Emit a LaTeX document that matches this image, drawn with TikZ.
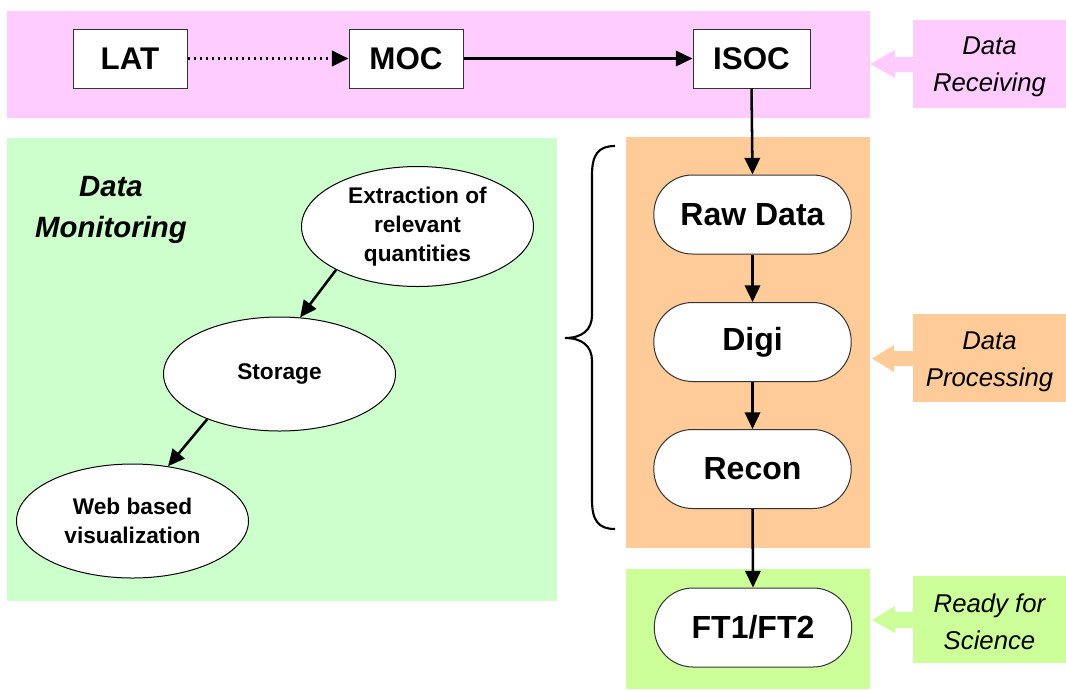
\documentclass[tikz,border=0pt]{standalone}
\usepackage{fontspec}
\setmainfont{Liberation Sans}
\usetikzlibrary{arrows.meta,shapes.geometric}
\definecolor{pinkbg}{RGB}{255,204,255}
\definecolor{greenbg}{RGB}{204,255,204}
\definecolor{orangebg}{RGB}{255,204,153}
\definecolor{limebg}{RGB}{204,255,153}
\definecolor{edgegray}{RGB}{51,51,51}
\begin{document}
\begin{tikzpicture}[x=0.75pt,y=-0.75pt,
  sbox/.style={draw=edgegray,line width=0.75pt,fill=white,minimum width=85.5pt,minimum height=44.25pt,inner sep=0pt,font=\fontsize{23.5}{28}\selectfont\bfseries},
  pill/.style={draw=edgegray,line width=0.75pt,fill=white,rounded corners=29pt,minimum width=148pt,minimum height=59.25pt,inner sep=0pt,font=\fontsize{24}{28}\selectfont\bfseries},
  oval/.style={ellipse,draw=black,line width=0.75pt,fill=white,inner sep=0pt,minimum width=174pt,minimum height=85.5pt,align=center,font=\fontsize{17}{21.5}\selectfont\bfseries},
  lblbox/.style={inner sep=0pt,minimum width=114.75pt,minimum height=66pt},
  lbltext/.style={inner sep=0pt,align=center,font=\fontsize{19.3}{27.75}\selectfont\itshape},
  tip/.style={-{Triangle[length=12.5pt,width=11.5pt]}},
  conn/.style={line width=1.9pt,tip},
]
\useasboundingbox (0,0) rectangle (1066,689);
% background panels
\fill[pinkbg] (7,11) rectangle (870,118);
\fill[greenbg] (7,138) rectangle (557,601);
\fill[orangebg] (626,137) rectangle (870,548);
\fill[limebg] (626,569) rectangle (870,689);

% side labels
\node[lblbox,fill=pinkbg] (recv) at (989.5,63.5) {};
\node[lbltext] (recvt) at ([yshift=-2.8pt]recv.center) {Data\\Receiving};
\node[lblbox,fill=orangebg] (proc) at (989.5,358) {};
\node[lbltext] (proct) at ([yshift=-3.2pt]proc.center) {Data\\Processing};
\node[lblbox,fill=limebg,minimum height=65.25pt] (ready) at (989.5,619.5) {};
\node[lbltext] (readyt) at ([yshift=-2pt]ready.center) {Ready for\\Science};

% block arrows
\fill[pinkbg] (870,64) -- (895,50) -- (895,57) -- (913,57) -- (913,72) -- (895,72) -- (895,78) -- cycle;
\fill[orangebg] (872,358.5) -- (894,345) -- (894,351) -- (913,351) -- (913,366) -- (894,366) -- (894,372) -- cycle;
\fill[limebg] (872,620) -- (895,606) -- (895,612) -- (913,612) -- (913,628) -- (895,628) -- (895,633) -- cycle;

% top row
\node[sbox] (lat) at (130,58.5) {LAT};
\node[sbox] (moc) at (406,58.5) {MOC};
\node[sbox,minimum width=87.75pt] (isoc) at (751.5,58.5) {ISOC};

% processing chain
\node[pill] (raw) at (752.5,214.5) {Raw Data};
\node[pill] (digi) at (752.5,342) {Digi};
\node[pill] (recon) at (752.5,469) {Recon};
\node[pill] (ft) at (753,627.5) {FT1/FT2};

% monitoring
\node[font=\fontsize{22}{30.75}\selectfont\bfseries\itshape,align=center] (mon) at (111,210) {Data\\Monitoring};
\node[oval,minimum height=90pt] (ext) at (417.5,226.5) {Extraction of\\relevant\\quantities};
\node[oval] (sto) at (279.5,374) {Storage};
\node[oval] (web) at (132.5,521) {Web based\\visualization};

% connectors
\draw[line width=2.2pt,dash pattern=on 2.2pt off 2.3pt,tip] (lat) -- (moc);
\draw[conn] (moc) -- (isoc);
\draw[conn] (isoc.south) -- (raw.north);
\draw[conn] (raw) -- (digi);
\draw[conn] (digi) -- (recon);
\draw[conn] (recon.south) -- (ft.north);
\draw[conn] (ext.208) -- (sto.70);
\draw[conn] (sto.212) -- (web.57);

% brace
\draw[line width=1.6pt] (615,146) .. controls (598,146) and (592,155) .. (592,175) -- (592,315)
  .. controls (592,330) and (582,338) .. (565,338)
  .. controls (582,338) and (592,346) .. (592,361) -- (592,500)
  .. controls (592,520) and (598,529) .. (615,529);
\end{tikzpicture}
\end{document}
